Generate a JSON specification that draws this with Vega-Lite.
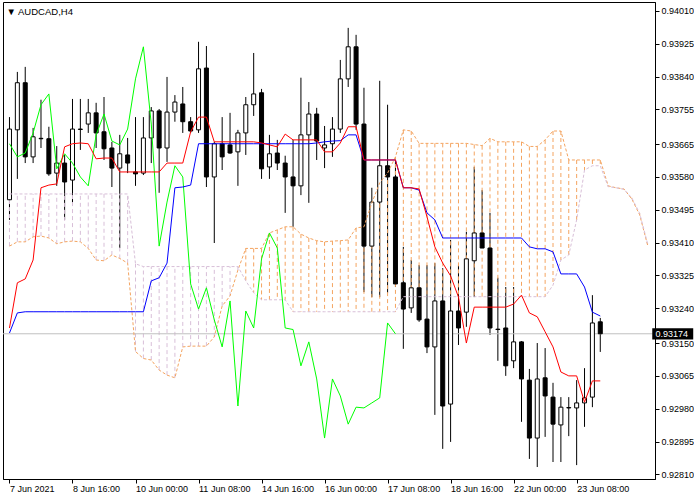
{
"$schema": "https://vega.github.io/schema/vega-lite/v6.json",
"width": 652, "height": 477,
"padding": {"left": 2, "top": 2, "right": 0, "bottom": 0},
"autosize": {"type": "pad"},
"background": "white",
"title": {"text": "▼ AUDCAD,H4", "anchor": "start", "offset": -14, "dx": 4, "font": "Liberation Sans", "fontSize": 9.5, "fontWeight": "normal", "color": "black"},
"config": {"view": {"stroke": "black", "strokeWidth": 1},
  "axis": {"labelFont": "Liberation Sans", "labelFontSize": 9, "labelColor": "black", "domainColor": "black", "tickColor": "black", "grid": false, "tickSize": 4, "labelOverlap": false, "labelBound": false, "labelFlush": false}},
"datasets": {
"bars": [
{"i":0,"o":0.93521,"h":0.93735,"l":0.93469,"c":0.93704,"tk":0.93189,"kj":0.93176,"ck":0.93666},
{"i":1,"o":0.93702,"h":0.93852,"l":0.93575,"c":0.93824,"tk":0.93306,"kj":0.93228,"ck":0.93632},
{"i":2,"o":0.93824,"h":0.93865,"l":0.93616,"c":0.93632,"tk":0.93316,"kj":0.93231,"ck":0.93642},
{"i":3,"o":0.93632,"h":0.93707,"l":0.93616,"c":0.93684,"tk":0.93365,"kj":0.93231,"ck":0.93694},
{"i":4,"o":0.93679,"h":0.93780,"l":0.93655,"c":0.93680,"tk":0.93552,"kj":0.93231,"ck":0.93767},
{"i":5,"o":0.93679,"h":0.93710,"l":0.93583,"c":0.93588,"tk":0.93559,"kj":0.93231,"ck":0.93795},
{"i":6,"o":0.93590,"h":0.93660,"l":0.93557,"c":0.93616,"tk":0.93562,"kj":0.93231,"ck":0.93601},
{"i":7,"o":0.93616,"h":0.93637,"l":0.93469,"c":0.93567,"tk":0.93658,"kj":0.93231,"ck":0.93640},
{"i":8,"o":0.93572,"h":0.93782,"l":0.93513,"c":0.93704,"tk":0.93666,"kj":0.93231,"ck":0.93616},
{"i":9,"o":0.93704,"h":0.93782,"l":0.93650,"c":0.93703,"tk":0.93668,"kj":0.93231,"ck":0.93580},
{"i":10,"o":0.93717,"h":0.93782,"l":0.93694,"c":0.93746,"tk":0.93666,"kj":0.93231,"ck":0.93557},
{"i":11,"o":0.93746,"h":0.93772,"l":0.93655,"c":0.93694,"tk":0.93627,"kj":0.93231,"ck":0.93689},
{"i":12,"o":0.93697,"h":0.93787,"l":0.93624,"c":0.93653,"tk":0.93629,"kj":0.93231,"ck":0.93743},
{"i":13,"o":0.93655,"h":0.93671,"l":0.93554,"c":0.93603,"tk":0.93629,"kj":0.93231,"ck":0.93673},
{"i":14,"o":0.93603,"h":0.93689,"l":0.93396,"c":0.93640,"tk":0.93593,"kj":0.93231,"ck":0.93663},
{"i":15,"o":0.93637,"h":0.93681,"l":0.93590,"c":0.93616,"tk":0.93593,"kj":0.93231,"ck":0.93704},
{"i":16,"o":0.93593,"h":0.93735,"l":0.93557,"c":0.93588,"tk":0.93593,"kj":0.93231,"ck":0.93834},
{"i":17,"o":0.93590,"h":0.93735,"l":0.93585,"c":0.93681,"tk":0.93593,"kj":0.93231,"ck":0.93917},
{"i":18,"o":0.93681,"h":0.93761,"l":0.93616,"c":0.93751,"tk":0.93593,"kj":0.93311,"ck":0.93717},
{"i":19,"o":0.93751,"h":0.93756,"l":0.93539,"c":0.93655,"tk":0.93593,"kj":0.93319,"ck":0.93401},
{"i":20,"o":0.93655,"h":0.93839,"l":0.93619,"c":0.93748,"tk":0.93616,"kj":0.93357,"ck":0.93515},
{"i":21,"o":0.93748,"h":0.93792,"l":0.93723,"c":0.93774,"tk":0.93616,"kj":0.93552,"ck":0.93609},
{"i":22,"o":0.93769,"h":0.93813,"l":0.93694,"c":0.93723,"tk":0.93616,"kj":0.93554,"ck":0.93580},
{"i":23,"o":0.93723,"h":0.93735,"l":0.93694,"c":0.93699,"tk":0.93697,"kj":0.93559,"ck":0.93303},
{"i":24,"o":0.93702,"h":0.93930,"l":0.93694,"c":0.93860,"tk":0.93735,"kj":0.93666,"ck":0.93238},
{"i":25,"o":0.93862,"h":0.93919,"l":0.93554,"c":0.93580,"tk":0.93735,"kj":0.93666,"ck":0.93293},
{"i":26,"o":0.93580,"h":0.93671,"l":0.93409,"c":0.93666,"tk":0.93671,"kj":0.93666,"ck":0.93210},
{"i":27,"o":0.93666,"h":0.93735,"l":0.93598,"c":0.93632,"tk":0.93671,"kj":0.93666,"ck":0.93140},
{"i":28,"o":0.93663,"h":0.93746,"l":0.93640,"c":0.93642,"tk":0.93671,"kj":0.93666,"ck":0.93259},
{"i":29,"o":0.93645,"h":0.93702,"l":0.93557,"c":0.93694,"tk":0.93671,"kj":0.93666,"ck":0.92987},
{"i":30,"o":0.93694,"h":0.93787,"l":0.93637,"c":0.93767,"tk":0.93671,"kj":0.93666,"ck":0.93233},
{"i":31,"o":0.93767,"h":0.93901,"l":0.93738,"c":0.93795,"tk":0.93671,"kj":0.93666,"ck":0.93189},
{"i":32,"o":0.93798,"h":0.93808,"l":0.93575,"c":0.93601,"tk":0.93668,"kj":0.93666,"ck":0.93368},
{"i":33,"o":0.93606,"h":0.93689,"l":0.93575,"c":0.93640,"tk":0.93663,"kj":0.93666,"ck":0.93435},
{"i":34,"o":0.93642,"h":0.93676,"l":0.93598,"c":0.93616,"tk":0.93658,"kj":0.93666,"ck":0.93396},
{"i":35,"o":0.93616,"h":0.93635,"l":0.93487,"c":0.93580,"tk":0.93691,"kj":0.93666,"ck":0.93189},
{"i":36,"o":0.93580,"h":0.93676,"l":0.93451,"c":0.93557,"tk":0.93676,"kj":0.93666,"ck":0.93185},
{"i":37,"o":0.93557,"h":0.93837,"l":0.93533,"c":0.93689,"tk":0.93676,"kj":0.93666,"ck":0.93091},
{"i":38,"o":0.93689,"h":0.93774,"l":0.93513,"c":0.93743,"tk":0.93676,"kj":0.93666,"ck":0.93153},
{"i":39,"o":0.93743,"h":0.93759,"l":0.93624,"c":0.93673,"tk":0.93676,"kj":0.93668,"ck":0.93057},
{"i":40,"o":0.93655,"h":0.93712,"l":0.93603,"c":0.93663,"tk":0.93645,"kj":0.93671,"ck":0.92904},
{"i":41,"o":0.93666,"h":0.93735,"l":0.93632,"c":0.93704,"tk":0.93645,"kj":0.93673,"ck":0.93057},
{"i":42,"o":0.93704,"h":0.93883,"l":0.93694,"c":0.93834,"tk":0.93668,"kj":0.93674,"ck":0.93013},
{"i":43,"o":0.93834,"h":0.93966,"l":0.93813,"c":0.93917,"tk":0.93710,"kj":0.93689,"ck":0.92940},
{"i":44,"o":0.93917,"h":0.93948,"l":0.93702,"c":0.93717,"tk":0.93710,"kj":0.93689,"ck":0.92984},
{"i":45,"o":0.93717,"h":0.93811,"l":0.93282,"c":0.93401,"tk":0.93624,"kj":0.93624,"ck":0.92982},
{"i":46,"o":0.93401,"h":0.93552,"l":0.93269,"c":0.93515,"tk":0.93624,"kj":0.93624,"ck":0.92995},
{"i":47,"o":0.93515,"h":0.93829,"l":0.93269,"c":0.93609,"tk":0.93624,"kj":0.93624,"ck":0.93008},
{"i":48,"o":0.93609,"h":0.93767,"l":0.93280,"c":0.93580,"tk":0.93624,"kj":0.93624,"ck":0.93202},
{"i":49,"o":0.93580,"h":0.93624,"l":0.93295,"c":0.93303,"tk":0.93624,"kj":0.93624,"ck":0.93174},
{"i":50,"o":0.93306,"h":0.93399,"l":0.93135,"c":0.93238,"tk":0.93552,"kj":0.93552},
{"i":51,"o":0.93241,"h":0.93365,"l":0.93228,"c":0.93293,"tk":0.93552,"kj":0.93552},
{"i":52,"o":0.93293,"h":0.93352,"l":0.93205,"c":0.93210,"tk":0.93549,"kj":0.93546},
{"i":53,"o":0.93212,"h":0.93352,"l":0.93124,"c":0.93140,"tk":0.93477,"kj":0.93487},
{"i":54,"o":0.93140,"h":0.93357,"l":0.92964,"c":0.93259,"tk":0.93399,"kj":0.93469},
{"i":55,"o":0.93259,"h":0.93344,"l":0.92876,"c":0.92987,"tk":0.93357,"kj":0.93422},
{"i":56,"o":0.92992,"h":0.93417,"l":0.92894,"c":0.93233,"tk":0.93324,"kj":0.93422},
{"i":57,"o":0.93233,"h":0.93352,"l":0.93145,"c":0.93189,"tk":0.93269,"kj":0.93422},
{"i":58,"o":0.93230,"h":0.93438,"l":0.93192,"c":0.93368,"tk":0.93150,"kj":0.93422},
{"i":59,"o":0.93363,"h":0.93606,"l":0.93269,"c":0.93435,"tk":0.93243,"kj":0.93422},
{"i":60,"o":0.93435,"h":0.93546,"l":0.93396,"c":0.93396,"tk":0.93243,"kj":0.93422},
{"i":61,"o":0.93396,"h":0.93487,"l":0.93171,"c":0.93189,"tk":0.93243,"kj":0.93422},
{"i":62,"o":0.93186,"h":0.93319,"l":0.93104,"c":0.93185,"tk":0.93243,"kj":0.93422},
{"i":63,"o":0.93189,"h":0.93295,"l":0.93065,"c":0.93091,"tk":0.93243,"kj":0.93422},
{"i":64,"o":0.93104,"h":0.93295,"l":0.93085,"c":0.93153,"tk":0.93251,"kj":0.93422},
{"i":65,"o":0.93153,"h":0.93155,"l":0.92946,"c":0.93057,"tk":0.93274,"kj":0.93422},
{"i":66,"o":0.93054,"h":0.93083,"l":0.92850,"c":0.92904,"tk":0.93228,"kj":0.93399},
{"i":67,"o":0.92904,"h":0.93150,"l":0.92829,"c":0.93057,"tk":0.93218,"kj":0.93394},
{"i":68,"o":0.93060,"h":0.93137,"l":0.92907,"c":0.93013,"tk":0.93179,"kj":0.93394},
{"i":69,"o":0.93010,"h":0.93047,"l":0.92842,"c":0.92940,"tk":0.93140,"kj":0.93386},
{"i":70,"o":0.92938,"h":0.93010,"l":0.92842,"c":0.92984,"tk":0.93075,"kj":0.93329},
{"i":71,"o":0.92982,"h":0.93010,"l":0.92909,"c":0.92983,"tk":0.93065,"kj":0.93329},
{"i":72,"o":0.92982,"h":0.93054,"l":0.92834,"c":0.92995,"tk":0.93065,"kj":0.93329},
{"i":73,"o":0.92995,"h":0.93085,"l":0.92933,"c":0.93008,"tk":0.92997,"kj":0.93295},
{"i":74,"o":0.93010,"h":0.93274,"l":0.92984,"c":0.93202,"tk":0.93052,"kj":0.93230},
{"i":75,"o":0.93205,"h":0.93215,"l":0.93127,"c":0.93174,"tk":0.93052,"kj":0.93220}
],
"cloud": [
{"i":0,"a":0.93401,"b":0.93536,"s":"B"},{"i":1,"a":0.93412,"b":0.93536,"s":"B"},{"i":2,"a":0.93412,"b":0.93536,"s":"B"},{"i":3,"a":0.93425,"b":0.93536,"s":"B"},
{"i":4,"a":0.93427,"b":0.93536,"s":"B"},{"i":5,"a":0.93422,"b":0.93536,"s":"B"},{"i":6,"a":0.93407,"b":0.93536,"s":"B"},{"i":7,"a":0.93412,"b":0.93536,"s":"B"},
{"i":8,"a":0.93414,"b":0.93536,"s":"B"},{"i":9,"a":0.93412,"b":0.93536,"s":"B"},{"i":10,"a":0.93395,"b":0.93536,"s":"B"},{"i":11,"a":0.93365,"b":0.93536,"s":"B"},
{"i":12,"a":0.93363,"b":0.93536,"s":"B"},{"i":13,"a":0.93378,"b":0.93536,"s":"B"},{"i":14,"a":0.93369,"b":0.93536,"s":"B"},{"i":15,"a":0.93357,"b":0.93536,"s":"B"},
{"i":16,"a":0.93128,"b":0.93355,"s":"B"},{"i":17,"a":0.93110,"b":0.93348,"s":"B"},{"i":18,"a":0.93106,"b":0.93348,"s":"B"},{"i":19,"a":0.93080,"b":0.93348,"s":"B"},
{"i":20,"a":0.93067,"b":0.93348,"s":"B"},{"i":21,"a":0.93060,"b":0.93348,"s":"B"},{"i":22,"a":0.93140,"b":0.93348,"s":"B"},{"i":23,"a":0.93142,"b":0.93348,"s":"B"},
{"i":24,"a":0.93142,"b":0.93348,"s":"B"},{"i":25,"a":0.93142,"b":0.93348,"s":"B"},{"i":26,"a":0.93166,"b":0.93348,"s":"B"},{"i":27,"a":0.93246,"b":0.93348,"s":"B"},
{"i":28,"a":0.93272,"b":0.93348,"s":"B"},{"i":29,"a":0.93339,"b":0.93348,"s":"B"},{"i":30,"a":0.93395,"b":0.93311,"s":"A"},{"i":31,"a":0.93395,"b":0.93280,"s":"A"},
{"i":32,"a":0.93395,"b":0.93262,"s":"A"},{"i":33,"a":0.93435,"b":0.93262,"s":"A"},{"i":34,"a":0.93443,"b":0.93262,"s":"A"},{"i":35,"a":0.93451,"b":0.93262,"s":"A"},
{"i":36,"a":0.93451,"b":0.93231,"s":"A"},{"i":37,"a":0.93432,"b":0.93231,"s":"A"},{"i":38,"a":0.93422,"b":0.93231,"s":"A"},{"i":39,"a":0.93415,"b":0.93231,"s":"A"},
{"i":40,"a":0.93412,"b":0.93231,"s":"A"},{"i":41,"a":0.93414,"b":0.93231,"s":"A"},{"i":42,"a":0.93415,"b":0.93231,"s":"A"},{"i":43,"a":0.93417,"b":0.93231,"s":"A"},
{"i":44,"a":0.93448,"b":0.93231,"s":"A"},{"i":45,"a":0.93451,"b":0.93231,"s":"A"},{"i":46,"a":0.93513,"b":0.93231,"s":"A"},{"i":47,"a":0.93565,"b":0.93231,"s":"A"},
{"i":48,"a":0.93590,"b":0.93231,"s":"A"},{"i":49,"a":0.93632,"b":0.93231,"s":"A"},{"i":50,"a":0.93702,"b":0.93270,"s":"A"},{"i":51,"a":0.93699,"b":0.93270,"s":"A"},
{"i":52,"a":0.93667,"b":0.93270,"s":"A"},{"i":53,"a":0.93667,"b":0.93270,"s":"A"},{"i":54,"a":0.93667,"b":0.93270,"s":"A"},{"i":55,"a":0.93667,"b":0.93270,"s":"A"},
{"i":56,"a":0.93667,"b":0.93270,"s":"A"},{"i":57,"a":0.93667,"b":0.93270,"s":"A"},{"i":58,"a":0.93667,"b":0.93270,"s":"A"},{"i":59,"a":0.93664,"b":0.93270,"s":"A"},
{"i":60,"a":0.93661,"b":0.93270,"s":"A"},{"i":61,"a":0.93680,"b":0.93270,"s":"A"},{"i":62,"a":0.93671,"b":0.93270,"s":"A"},{"i":63,"a":0.93671,"b":0.93270,"s":"A"},
{"i":64,"a":0.93671,"b":0.93270,"s":"A"},{"i":65,"a":0.93671,"b":0.93270,"s":"A"},{"i":66,"a":0.93659,"b":0.93270,"s":"A"},{"i":67,"a":0.93659,"b":0.93270,"s":"A"},
{"i":68,"a":0.93676,"b":0.93270,"s":"A"},{"i":69,"a":0.93699,"b":0.93300,"s":"A"},{"i":70,"a":0.93699,"b":0.93365,"s":"A"},{"i":71,"a":0.93624,"b":0.93378,"s":"A"},
{"i":72,"a":0.93624,"b":0.93469,"s":"A"},{"i":73,"a":0.93624,"b":0.93598,"s":"A"},{"i":74,"a":0.93624,"b":0.93609,"s":"A"},{"i":75,"a":0.93624,"b":0.93609,"s":"A"},
{"i":76,"a":0.93557,"b":0.93555,"s":"A"},{"i":77,"a":0.93552,"b":0.93552,"s":"A"},{"i":78,"a":0.93549,"b":0.93548,"s":"A"},{"i":79,"a":0.93523,"b":0.93526,"s":"A"},
{"i":80,"a":0.93482,"b":0.93486,"s":"A"},{"i":81,"a":0.93404,"b":0.93408,"s":"A"}
]
},
"layer": [
{"data": {"name": "bars"}, "mark": {"type": "rule", "color": "black", "strokeWidth": 1},
 "encoding": {
  "x": {"field": "i", "type": "quantitative", "scale": {"domain": [-0.1875, 81.3125], "nice": false, "zero": false},
        "axis": {"title": null, "orient": "bottom", "values": [0,8,16,24,32,40,48,56,64,72], "tickCount": 30,
                 "labelExpr": "['7 Jun 2021','8 Jun 16:00','10 Jun 00:00','11 Jun 08:00','14 Jun 16:00','16 Jun 00:00','17 Jun 08:00','18 Jun 16:00','22 Jun 00:00','23 Jun 08:00'][round(datum.value/8)]",
                 "labelAlign": "left", "labelDx": -1, "labelPadding": 1, "labelBaseline": "top", "labelOverlap": false, "labelBound": false, "labelFlush": false}},
  "y": {"field": "l", "type": "quantitative", "scale": {"domain": [0.92798, 0.94033], "nice": false, "zero": false},
        "axis": {"title": null, "orient": "right", "values": [0.94010,0.93925,0.93840,0.93755,0.93665,0.93580,0.93495,0.93410,0.93325,0.93240,0.93150,0.93065,0.92980,0.92895,0.92810], "tickCount": 30,
                 "format": ".5f", "labelPadding": 2, "labelOverlap": false, "labelBound": false, "labelFlush": false, "labelBaseline": "middle"}},
  "y2": {"field": "h"}
 }},
{"data": {"name": "cloud"}, "mark": {"type": "rule", "strokeWidth": 1, "strokeDash": [4, 3]},
 "encoding": {
  "x": {"field": "i", "type": "quantitative", "title": null},
  "y": {"field": "a", "type": "quantitative", "title": null},
  "y2": {"field": "b"},
  "color": {"field": "s", "type": "nominal", "scale": {"domain": ["A", "B"], "range": ["#F4A460", "#D8BFD8"]}, "legend": null}
 }},
{"data": {"values": [{}]}, "mark": {"type": "rule", "color": "#C0C0C0", "strokeWidth": 1},
 "encoding": {"y": {"datum": 0.93174}}},
{"data": {"name": "bars"}, "mark": {"type": "bar", "size": 4, "stroke": "black", "strokeWidth": 1, "orient": "vertical"},
 "encoding": {
  "x": {"field": "i", "type": "quantitative", "title": null},
  "y": {"field": "o", "type": "quantitative", "title": null},
  "y2": {"field": "c"},
  "fill": {"condition": {"test": "datum.c >= datum.o", "value": "white"}, "value": "black"}
 }},
{"data": {"name": "cloud"}, "mark": {"type": "line", "color": "#F4A460", "strokeWidth": 1, "strokeDash": [3, 2]},
 "encoding": {"x": {"field": "i", "type": "quantitative", "title": null}, "y": {"field": "a", "type": "quantitative", "title": null}}},
{"data": {"name": "cloud"}, "mark": {"type": "line", "color": "#D8BFD8", "strokeWidth": 1, "strokeDash": [3, 2]},
 "encoding": {"x": {"field": "i", "type": "quantitative", "title": null}, "y": {"field": "b", "type": "quantitative", "title": null}}},
{"data": {"name": "bars"}, "transform": [{"filter": "isValid(datum.ck)"}], "mark": {"type": "line", "color": "#00FF00", "strokeWidth": 1},
 "encoding": {"x": {"field": "i", "type": "quantitative", "title": null}, "y": {"field": "ck", "type": "quantitative", "title": null}}},
{"data": {"name": "bars"}, "mark": {"type": "line", "color": "#0000FF", "strokeWidth": 1},
 "encoding": {"x": {"field": "i", "type": "quantitative", "title": null}, "y": {"field": "kj", "type": "quantitative", "title": null}}},
{"data": {"name": "bars"}, "mark": {"type": "line", "color": "#FF0000", "strokeWidth": 1},
 "encoding": {"x": {"field": "i", "type": "quantitative", "title": null}, "y": {"field": "tk", "type": "quantitative", "title": null}}},
{"data": {"values": [{}]}, "mark": {"type": "rect", "color": "black", "clip": false},
 "encoding": {"x": {"datum": 81.6}, "x2": {"datum": 86.8}, "y": {"datum": 0.93188}, "y2": {"datum": 0.93159}}},
{"data": {"values": [{}]}, "mark": {"type": "text", "align": "left", "baseline": "middle", "color": "white", "font": "Liberation Sans", "fontSize": 9, "clip": false},
 "encoding": {"x": {"datum": 82.0}, "y": {"datum": 0.93174}, "text": {"value": "0.93174"}}}
]
}
